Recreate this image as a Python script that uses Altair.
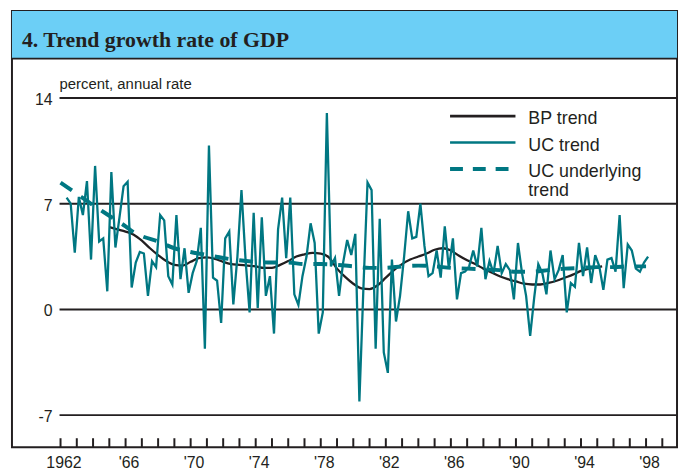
import altair as alt
import pandas as pd

# ---------------- data ----------------
uc_start = 1962.375          # first quarter plotted (year fraction)
uc_step = 0.25               # quarterly
uc_trend = [
    7.4, 7.0, 3.75, 7.45, 6.25, 8.5, 3.3, 9.5, 4.5, 4.7,
    1.2, 9.1, 4.1, 6.1, 8.15, 8.45, 1.45, 3.1, 3.8, 3.7,
    0.9, 3.2, 2.8, 6.25, 5.9, 2.2, 1.65, 6.25, 2.0, 4.05,
    1.1, 2.4, 3.2, 5.4, -2.6, 10.85, 2.1, 1.9, -0.9, 4.7,
    5.15, 0.33, 3.5, 7.9, 3.3, -0.2, 6.4, 0.1, 6.1, 0.9,
    2.2, -1.6, 5.3, 7.4, 3.4, 7.4, 1.0, 0.3, 2.2, 3.5,
    5.7, 4.4, -1.6, -0.2, 13.0, 2.85, 3.4, 0.9, 3.1, 4.6,
    3.6, 5.0, -6.1, 1.5, 8.4, 7.9, -2.6, 6.0, -2.85, -4.2,
    3.3, -0.8, 0.9, 3.5, 6.5, 4.7, 4.8, 7.0, 4.2, 2.2,
    2.4, 3.9, 2.1, 5.5, 2.7, 4.7, 0.66, 2.4, 2.5, 2.85,
    3.9, 2.85, 5.4, 2.0, 3.2, 2.4, 4.2, 2.4, 3.0, 2.6,
    0.66, 4.4, 2.4, 0.9, -1.75, 0.8, 3.0, 2.4, 1.0, 3.9,
    2.0, 2.6, 3.6, -0.2, 1.75, 1.5, 4.4, 2.2, 4.1, 1.75,
    3.6, 2.85, 1.3, 3.3, 3.4, 2.5, 6.25, 1.4, 4.3, 3.9,
    2.7, 2.5, 3.1, 3.5,
]

bp_years = [1965.0, 1965.5, 1966.0, 1966.5, 1967.0, 1967.5, 1968.0, 1968.5, 1969.0, 1969.5,
            1970.0, 1970.5, 1971.0, 1971.5, 1972.0, 1972.5, 1973.0, 1973.5, 1974.0, 1974.5,
            1975.0, 1975.5, 1976.0, 1976.5, 1977.0, 1977.5, 1978.0, 1978.5, 1979.0, 1979.5,
            1980.0, 1980.5, 1981.0, 1981.5, 1982.0, 1982.5, 1983.0, 1983.5, 1984.0, 1984.5,
            1985.0, 1985.5, 1986.0, 1986.5, 1987.0, 1987.5, 1988.0, 1988.5, 1989.0, 1989.5,
            1990.0, 1990.5, 1991.0, 1991.5, 1992.0, 1992.5, 1993.0, 1993.5, 1994.0, 1994.5,
            1995.0, 1995.3]
bp_values = [5.45, 5.3, 5.15, 4.95, 4.55, 4.05, 3.6, 3.2, 2.95, 2.9,
             3.15, 3.4, 3.45, 3.35, 3.15, 3.0, 2.95, 2.9, 2.85, 2.75,
             2.75, 2.95, 3.2, 3.5, 3.65, 3.75, 3.7, 3.45, 2.7, 2.15,
             1.7, 1.4, 1.35, 1.6, 2.1, 2.6, 3.0, 3.3, 3.5, 3.7,
             3.95, 4.05, 3.9, 3.55, 3.25, 3.0, 2.7, 2.45, 2.2, 2.0,
             1.85, 1.7, 1.65, 1.65, 1.75, 1.9, 2.1, 2.3, 2.55, 2.7,
             2.8, 2.85]

und_years = [1962.0, 1963.0, 1964.0, 1965.0, 1966.0, 1966.5, 1967.0, 1968.0, 1969.0, 1970.0,
             1971.0, 1972.0, 1973.0, 1974.0, 1975.0, 1976.0, 1977.0, 1978.0, 1979.0, 1980.0,
             1981.0, 1982.0, 1983.0, 1984.0, 1985.0, 1986.0, 1987.0, 1988.0, 1989.0, 1990.0,
             1991.0, 1992.0, 1993.0, 1994.0, 1995.0, 1996.0, 1997.0, 1998.0]
und_values = [8.4, 7.65, 6.9, 6.2, 5.5, 5.1, 4.85, 4.5, 4.05, 3.8,
              3.6, 3.4, 3.25, 3.15, 3.1, 3.1, 3.0, 3.0, 2.95, 2.85,
              2.75, 2.75, 2.85, 2.9, 2.85, 2.75, 2.7, 2.65, 2.6, 2.5,
              2.5, 2.6, 2.7, 2.75, 2.8, 2.8, 2.85, 2.85]

grid_values = [14, 7, 0, -7]
grid_labels = ["14", "7", "0", "-7"]
tick_years = list(range(1962, 2000))
label_years = [1962, 1966, 1970, 1974, 1978, 1982, 1986, 1990, 1994, 1998]
label_texts = ["1962", "'66", "'70", "'74", "'78", "'82", "'86", "'90", "'94", "'98"]

title_text = "4. Trend growth rate of GDP"
unit_text = "percent, annual rate"
legend_names = ["BP trend", "UC trend", "UC underlying", "trend"]

# ---------------- styling ----------------
W, H = 671, 440
TEAL = "#007782"
INK = "#231f20"
BLUE = "#6ccff6"
SANS = "Liberation Sans"

xs = alt.Scale(domain=[1959.014, 1999.904], nice=False, zero=False)
ys = alt.Scale(domain=[-9.12, 19.755], nice=False, zero=False)

uc_df = pd.DataFrame({"t": [uc_start + uc_step * i for i in range(len(uc_trend))],
                      "v": uc_trend})
bp_df = pd.DataFrame({"t": bp_years, "v": bp_values})
und_df = pd.DataFrame({"t": und_years, "v": und_values})
grid_df = pd.DataFrame({"v": grid_values, "lab": grid_labels})
tick_df = pd.DataFrame({"t": tick_years})
lab_df = pd.DataFrame({"t": label_years, "lab": label_texts})
one = pd.DataFrame({"k": [0]})

X = lambda f: alt.X(f, type="quantitative", scale=xs, axis=None)
Y = lambda f: alt.Y(f, type="quantitative", scale=ys, axis=None)

title_bar = alt.Chart(one).mark_rect(color=BLUE).encode(
    x=alt.value(0), x2=alt.value(W), y=alt.value(0), y2=alt.value(48))
title_line = alt.Chart(one).mark_rule(color=INK, strokeWidth=2).encode(
    x=alt.value(0), x2=alt.value(W), y=alt.value(48))
title = alt.Chart(one).mark_text(
    align="left", baseline="alphabetic", font="Liberation Serif",
    fontWeight="bold", fontSize=22, color=INK
).encode(x=alt.value(10), y=alt.value(36), text=alt.value(title_text))

grid = alt.Chart(grid_df).mark_rule(color=INK, strokeWidth=2).encode(
    y=Y("v"), x=alt.value(48), x2=alt.value(W))
ylabels = alt.Chart(grid_df).mark_text(
    align="right", baseline="middle", font=SANS, fontSize=16, color=INK, dy=2
).encode(y=Y("v"), x=alt.value(41), text="lab:N")
unit = alt.Chart(one).mark_text(
    align="left", baseline="alphabetic", font=SANS, fontSize=15, color=INK
).encode(x=alt.value(48), y=alt.value(78.5), text=alt.value(unit_text))

ticks = alt.Chart(tick_df).mark_rule(color=INK, strokeWidth=2).encode(
    x=X("t"), y=alt.value(H), y2=alt.value(H - 9))
xlabels = alt.Chart(lab_df).mark_text(
    align="center", baseline="alphabetic", font=SANS, fontSize=16, color=INK, dx=3.5
).encode(x=X("t"), y=alt.value(H + 21), text="lab:N")

bp_line = alt.Chart(bp_df).mark_line(
    color=INK, strokeWidth=2.3, interpolate="monotone"
).encode(x=X("t"), y=Y("v"))
uc_line = alt.Chart(uc_df).mark_line(
    color=TEAL, strokeWidth=2.3
).encode(x=X("t"), y=Y("v"))
und_line = alt.Chart(und_df).mark_line(
    color=TEAL, strokeWidth=4, strokeDash=[14, 11], interpolate="monotone"
).encode(x=X("t"), y=Y("v"))

# legend (drawn by hand)
def leg_line(y, color, width, dash=None):
    kw = dict(color=color, strokeWidth=width)
    if dash:
        kw["strokeDash"] = dash
    return alt.Chart(one).mark_rule(**kw).encode(
        x=alt.value(442), x2=alt.value(508), y=alt.value(y))

def leg_text(y, txt):
    return alt.Chart(one).mark_text(
        align="left", baseline="alphabetic", font=SANS, fontSize=18, color=INK
    ).encode(x=alt.value(521), y=alt.value(y), text=alt.value(txt))

legend = [
    leg_line(106, INK, 2.6), leg_text(114.3, legend_names[0]),
    leg_line(132.7, TEAL, 2.6), leg_text(141, legend_names[1]),
    leg_line(159.3, TEAL, 4, [13, 10]), leg_text(167.7, legend_names[2]),
    leg_text(186.7, legend_names[3]),
]

chart = alt.layer(
    title_bar, title_line, title, grid, ylabels, unit, ticks, xlabels,
    bp_line, uc_line, und_line, *legend
).properties(
    width=W, height=H,
    padding={"left": 4, "top": 1, "right": 2, "bottom": 24},
    autosize=alt.AutoSizeParams(type="none"),
).configure_view(stroke=INK, strokeWidth=2)

chart.save("out.html", embed_options={"renderer": "svg", "actions": False})
